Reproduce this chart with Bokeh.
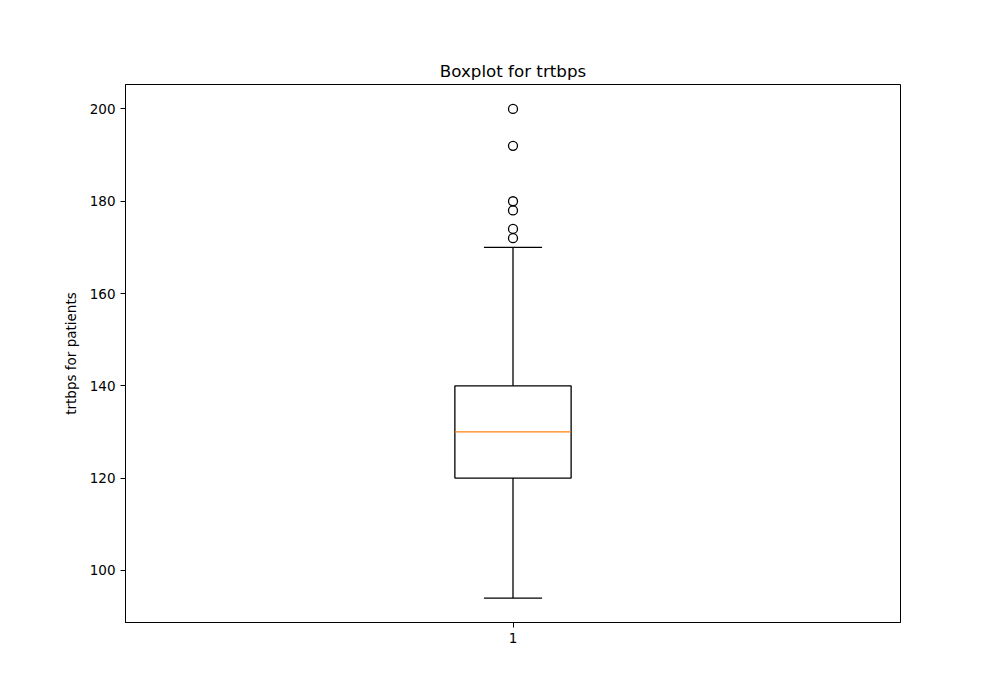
from bokeh.plotting import figure
from bokeh.models import FixedTicker, Range1d, ColumnDataSource
from bokeh.embed import file_html
from bokeh.resources import INLINE

# Data
categories = [1]
q1 = [120]
median = [130]
q3 = [140]
whisker_low = [94]
whisker_high = [170]
outliers = [172, 174, 178, 180, 192, 200]
y_ticks = [100, 120, 140, 160, 180, 200]

box_half = 0.075
cap_half = 0.0375

p = figure(width=1000, height=700, output_backend="svg", toolbar_location=None,
           x_range=Range1d(0.5, 1.5), y_range=Range1d(88.7, 205.3),
           title="Boxplot for trtbps",
           min_border_left=125, min_border_right=100, min_border_top=84, min_border_bottom=78)

p.background_fill_color = "white"
p.border_fill_color = "white"
p.outline_line_color = "black"
p.outline_line_alpha = 1
p.outline_line_width = 1
p.xgrid.visible = False
p.ygrid.visible = False

p.title.align = "center"
p.title.text_font = "DejaVu Sans"
p.title.text_font_size = "16.7px"
p.title.text_font_style = "normal"
p.title.text_color = "black"
p.title.standoff = 8

for ax in (p.xaxis[0], p.yaxis[0]):
    ax.axis_line_color = "black"
    ax.major_tick_line_color = "black"
    ax.minor_tick_line_color = None
    ax.major_tick_out = 5
    ax.major_tick_in = 0
    ax.major_label_text_font = "DejaVu Sans"
    ax.major_label_text_font_size = "13.5px"
    ax.major_label_text_color = "black"
    ax.axis_label_text_font = "DejaVu Sans"
    ax.axis_label_text_font_size = "13.5px"
    ax.axis_label_text_font_style = "normal"
    ax.axis_label_text_color = "black"
    ax.major_label_standoff = 5

p.xaxis.ticker = FixedTicker(ticks=categories)
p.yaxis.ticker = FixedTicker(ticks=y_ticks)
p.yaxis.axis_label = "trtbps for patients"
p.yaxis.axis_label_standoff = 8

src = ColumnDataSource(dict(
    x=categories, q1=q1, med=median, q3=q3, lo=whisker_low, hi=whisker_high,
    left=[c - box_half for c in categories], right=[c + box_half for c in categories],
    cl=[c - cap_half for c in categories], cr=[c + cap_half for c in categories],
))

lw = 1.3
p.quad(left="left", right="right", bottom="q1", top="q3", source=src,
       fill_color=None, line_color="black", line_width=lw)
p.segment(x0="x", y0="lo", x1="x", y1="q1", source=src, line_color="black", line_width=lw)
p.segment(x0="x", y0="q3", x1="x", y1="hi", source=src, line_color="black", line_width=lw)
p.segment(x0="cl", y0="lo", x1="cr", y1="lo", source=src, line_color="black", line_width=lw)
p.segment(x0="cl", y0="hi", x1="cr", y1="hi", source=src, line_color="black", line_width=lw)
p.segment(x0="left", y0="med", x1="right", y1="med", source=src, line_color="#ff7f0e", line_width=lw)

p.scatter(x=[categories[0]] * len(outliers), y=outliers, marker="circle", size=9,
          fill_color=None, line_color="black", line_width=lw)

open("out.html", "w").write(file_html(p, INLINE))
